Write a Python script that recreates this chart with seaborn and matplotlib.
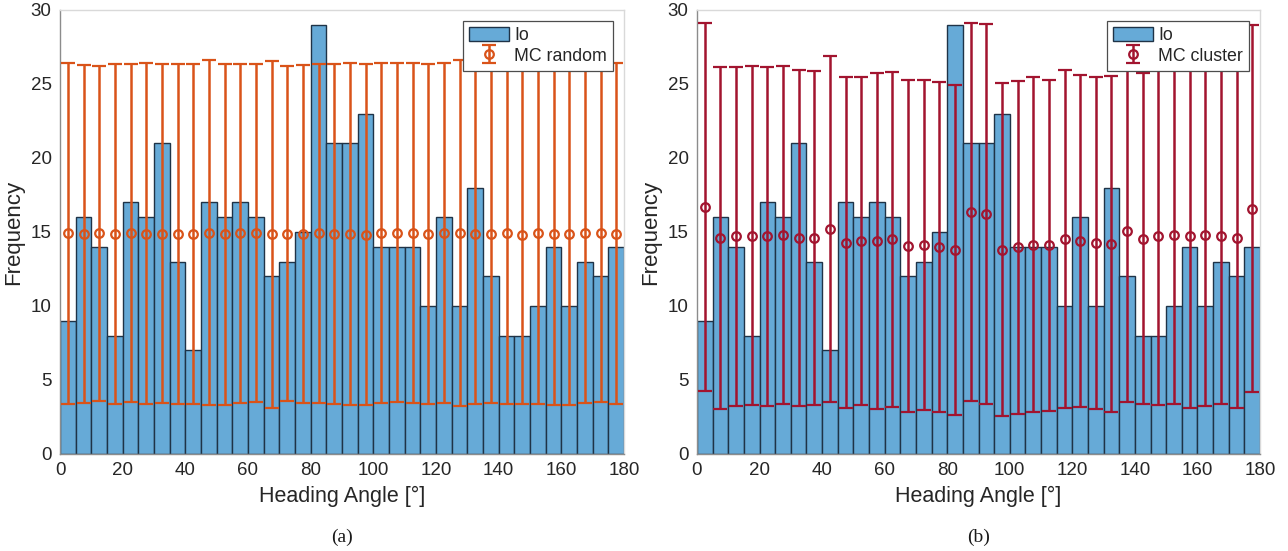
import numpy as np
import pandas as pd
import matplotlib
matplotlib.use("Agg")
import matplotlib.pyplot as plt
import seaborn as sns

# Observed heading-angle counts in 5-degree bins (0..180)
bin_edges = list(range(0, 181, 5))
bin_centers = [e + 2.5 for e in bin_edges[:-1]]
io_counts = [9, 16, 14, 8, 17, 16, 21, 13, 7, 17, 16, 17, 16, 12, 13, 15, 29, 21,
             21, 23, 14, 14, 14, 10, 16, 10, 18, 12, 8, 8, 10, 14, 10, 13, 12, 14]

# Monte Carlo expectation (mean) and spread for a random distribution
mc_random_mean = [14.90, 14.86, 14.90, 14.86, 14.93, 14.89, 14.89, 14.86, 14.86, 14.95,
                  14.84, 14.90, 14.93, 14.84, 14.89, 14.89, 14.90, 14.89, 14.89, 14.82,
                  14.93, 14.95, 14.93, 14.86, 14.93, 14.95, 14.86, 14.86, 14.95, 14.80,
                  14.90, 14.86, 14.86, 14.93, 14.90, 14.89]
mc_random_err = [11.50, 11.44, 11.30, 11.50, 11.44, 11.50, 11.47, 11.50, 11.50, 11.65,
                 11.50, 11.43, 11.45, 11.70, 11.33, 11.42, 11.46, 11.48, 11.55, 11.50,
                 11.47, 11.46, 11.50, 11.50, 11.50, 11.70, 11.45, 11.40, 11.57, 11.42,
                 11.50, 11.58, 11.56, 11.50, 11.41, 11.50]

# Monte Carlo expectation (mean) and spread for a clustered distribution
mc_cluster_mean = [16.70, 14.60, 14.70, 14.75, 14.70, 14.80, 14.60, 14.60, 15.20, 14.28,
                   14.40, 14.40, 14.50, 14.08, 14.14, 14.00, 13.80, 16.35, 16.24, 13.80,
                   13.96, 14.14, 14.10, 14.53, 14.40, 14.28, 14.19, 15.10, 14.55, 14.70,
                   14.80, 14.70, 14.80, 14.73, 14.57, 16.58]
mc_cluster_err = [12.44, 11.55, 11.45, 11.45, 11.46, 11.45, 11.35, 11.30, 11.70, 11.17,
                  11.10, 11.35, 11.30, 11.22, 11.15, 11.15, 11.14, 12.77, 12.83, 11.25,
                  11.23, 11.32, 11.17, 11.44, 11.20, 11.22, 11.37, 11.56, 11.17, 11.40,
                  11.40, 11.57, 11.53, 11.35, 11.48, 12.40]

x_ticks = list(range(0, 181, 20))
y_ticks = list(range(0, 31, 5))

sns.set_theme(style="white")
plt.rcParams["font.family"] = ["Liberation Sans", "DejaVu Sans"]

fig = plt.figure(figsize=(12.88, 5.51), dpi=100)
ax_a = fig.add_axes([60 / 1288, 97 / 551, 564 / 1288, 444 / 551])
ax_b = fig.add_axes([697 / 1288, 97 / 551, 563 / 1288, 444 / 551])

hist_df = pd.DataFrame({"angle": bin_centers, "count": io_counts})

panels = [
    (ax_a, mc_random_mean, mc_random_err, "#D95319", "MC random", "(a)"),
    (ax_b, mc_cluster_mean, mc_cluster_err, "#A2142F", "MC cluster", "(b)"),
]

for ax, mean, err, color, label, tag in panels:
    sns.histplot(data=hist_df, x="angle", weights="count", bins=bin_edges,
                 color="#66AAD7", alpha=1.0, edgecolor="#1f3347", linewidth=1.0,
                 ax=ax, label="Io")
    ax.errorbar(bin_centers, mean, yerr=err, fmt="o", color=color,
                markerfacecolor="none", markersize=6.2, markeredgewidth=1.6,
                elinewidth=1.8, capsize=4.8, capthick=1.8, label=label, zorder=3)
    ax.set_xlim(0, 180)
    ax.set_ylim(0, 30)
    ax.set_xticks(x_ticks)
    ax.set_yticks(y_ticks)
    ax.tick_params(axis="both", labelsize=13.5, colors="#262626", length=0, pad=6)
    ax.set_xlabel("Heading Angle [°]", fontsize=15.5, color="#262626", labelpad=5)
    ax.set_ylabel("Frequency", fontsize=16, color="#262626", labelpad=5)
    for side in ("top", "right"):
        ax.spines[side].set_color("#d9d9d9")
        ax.spines[side].set_linewidth(1.0)
    for side in ("left", "bottom"):
        ax.spines[side].set_color("#8c8c8c")
        ax.spines[side].set_linewidth(1.0)
    leg = ax.legend(loc="upper right", fontsize=12.8, frameon=True, fancybox=False,
                    framealpha=1.0, borderaxespad=0.6, handlelength=2.25,
                    handleheight=0.85, handletextpad=0.3, borderpad=0.35,
                    labelspacing=0.2)
    leg.get_frame().set_edgecolor("#4d4d4d")
    leg.get_frame().set_facecolor("white")
    leg.get_frame().set_linewidth(0.9)
    leg.set_zorder(10)
    pos = ax.get_position()
    fig.text(pos.x0 + pos.width / 2, 14 / 551, tag, ha="center", va="center",
             fontsize=14, family=["Liberation Serif", "DejaVu Serif"], color="#1a1a1a")

fig.savefig("out.png", dpi=100)
